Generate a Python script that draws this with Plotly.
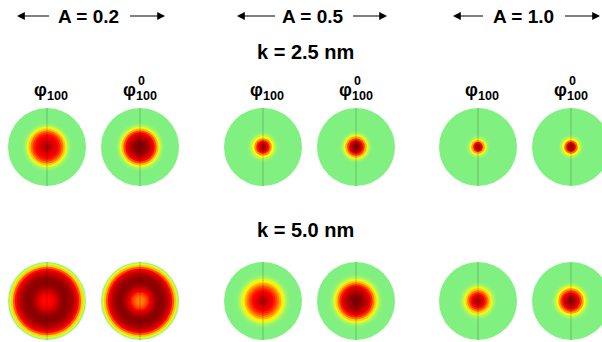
import numpy as np
import plotly.graph_objects as go

# ---------------- data ----------------
A_VALUES = ["0.2", "0.5", "1.0"]
K_VALUES = ["2.5", "5.0"]
FUNC_LABELS = ["φ100", "φ0_100"]

# radial sample points (fraction of disc radius)
RADII = [0.00, 0.05, 0.10, 0.15, 0.20, 0.25, 0.30, 0.35, 0.40, 0.45, 0.50,
         0.55, 0.60, 0.65, 0.70, 0.75, 0.80, 0.85, 0.90, 0.95, 1.00]

# k = 2.5 nm
k25_a02_phi = [0.88, 0.86, 0.82, 0.77, 0.72, 0.68, 0.63, 0.57, 0.48, 0.36, 0.22,
               0.10, 0.03, 0, 0, 0, 0, 0, 0, 0, 0]
k25_a02_phi0 = [1.00, 1.00, 0.98, 0.95, 0.90, 0.84, 0.76, 0.66, 0.54, 0.38, 0.22,
                0.10, 0.03, 0, 0, 0, 0, 0, 0, 0, 0]
k25_a05_phi = [0.92, 0.86, 0.76, 0.62, 0.45, 0.28, 0.14, 0.05, 0.01, 0, 0,
               0, 0, 0, 0, 0, 0, 0, 0, 0, 0]
k25_a05_phi0 = [1.00, 0.97, 0.88, 0.75, 0.58, 0.40, 0.22, 0.09, 0.02, 0, 0,
                0, 0, 0, 0, 0, 0, 0, 0, 0, 0]
k25_a10_phi = [0.95, 0.85, 0.65, 0.42, 0.22, 0.08, 0.02, 0, 0, 0, 0,
               0, 0, 0, 0, 0, 0, 0, 0, 0, 0]
k25_a10_phi0 = [1.00, 0.90, 0.72, 0.50, 0.28, 0.12, 0.03, 0, 0, 0, 0,
                0, 0, 0, 0, 0, 0, 0, 0, 0, 0]
# k = 5.0 nm
k50_a02_phi = [0.64, 0.64, 0.65, 0.67, 0.72, 0.78, 0.85, 0.91, 0.95, 0.97, 0.97,
               0.96, 0.93, 0.88, 0.82, 0.74, 0.64, 0.52, 0.35, 0.18, 0.05]
k50_a02_phi0 = [0.46, 0.47, 0.49, 0.53, 0.58, 0.66, 0.75, 0.83, 0.90, 0.95, 0.97,
                0.97, 0.95, 0.91, 0.85, 0.77, 0.66, 0.53, 0.37, 0.20, 0.06]
k50_a05_phi = [0.90, 0.85, 0.80, 0.75, 0.70, 0.65, 0.60, 0.54, 0.47, 0.39, 0.30,
               0.20, 0.10, 0.04, 0.01, 0, 0, 0, 0, 0, 0]
k50_a05_phi0 = [1.00, 1.00, 0.98, 0.95, 0.90, 0.85, 0.78, 0.70, 0.60, 0.48, 0.35,
                0.22, 0.11, 0.04, 0.01, 0, 0, 0, 0, 0, 0]
k50_a10_phi = [0.90, 0.85, 0.78, 0.70, 0.60, 0.48, 0.35, 0.22, 0.11, 0.04, 0.01,
               0, 0, 0, 0, 0, 0, 0, 0, 0, 0]
k50_a10_phi0 = [0.98, 0.95, 0.88, 0.80, 0.70, 0.57, 0.42, 0.27, 0.14, 0.05, 0.01,
                0, 0, 0, 0, 0, 0, 0, 0, 0, 0]

PROFILES = {
    ("2.5", "0.2"): [k25_a02_phi, k25_a02_phi0],
    ("2.5", "0.5"): [k25_a05_phi, k25_a05_phi0],
    ("2.5", "1.0"): [k25_a10_phi, k25_a10_phi0],
    ("5.0", "0.2"): [k50_a02_phi, k50_a02_phi0],
    ("5.0", "0.5"): [k50_a05_phi, k50_a05_phi0],
    ("5.0", "1.0"): [k50_a10_phi, k50_a10_phi0],
}

# ---------------- layout / style ----------------
W, H = 602, 342
R = 39                      # disc radius in px
GROUP_X = [93.5, 309.5, 524.5]
PAIR_DX = 46.5
ROW_Y = [147, 301]
A_TEXT_X = [88, 313, 523]
A_LEFT = [(17, 52), (237, 278), (453, 486)]    # (tip, tail)
A_RIGHT = [(127, 165), (350, 387), (562, 600)]  # (tail, tip)
FONT = "Liberation Sans, Arial, sans-serif"

COLORSCALE = [
    [0.00, "rgb(128,240,128)"],
    [0.10, "rgb(170,245,100)"],
    [0.28, "rgb(255,255,0)"],
    [0.45, "rgb(255,140,0)"],
    [0.65, "rgb(255,0,0)"],
    [1.00, "rgb(128,0,0)"],
]

fig = go.Figure()
radii = np.array(RADII)
outer = np.minimum(radii + 0.025, 1.0)
order = np.argsort(-outer, kind="stable")

for ri, k in enumerate(K_VALUES):
    for gi, a in enumerate(A_VALUES):
        for fi, prof in enumerate(PROFILES[(k, a)]):
            cx = GROUP_X[gi] + (PAIR_DX if fi else -PAIR_DX)
            cy = ROW_Y[ri]
            vals = np.array(prof)[order]
            sizes = 2 * R * outer[order]
            fig.add_trace(go.Scatter(
                x=[cx] * len(vals), y=[cy] * len(vals), mode="markers",
                marker=dict(size=sizes, color=vals, colorscale=COLORSCALE,
                            cmin=0, cmax=1, line=dict(width=0), opacity=1),
                hoverinfo="skip", showlegend=False))
            # line-ns half length = 0.7 * size
            fig.add_trace(go.Scatter(
                x=[cx], y=[cy], mode="markers",
                marker=dict(symbol="line-ns", size=R / 0.7,
                            line=dict(width=1, color="rgba(0,0,0,0.2)")),
                hoverinfo="skip", showlegend=False))

annotations = []
for gi, a in enumerate(A_VALUES):
    annotations.append(dict(x=A_TEXT_X[gi], y=16, text=f"<b>A = {a}</b>", showarrow=False,
                            font=dict(size=19, family=FONT, color="black"),
                            xanchor="center", yanchor="middle"))
    for tip, tail in [(A_LEFT[gi][0], A_LEFT[gi][1]), (A_RIGHT[gi][1], A_RIGHT[gi][0])]:
        annotations.append(dict(x=tip, y=16, ax=tail, ay=16, axref="x", ayref="y",
                                xref="x", yref="y", text=" ", showarrow=True,
                                arrowhead=2, arrowsize=1.3, arrowwidth=1.2,
                                arrowcolor="black", standoff=0, startstandoff=0))
K_Y = [52, 230]
for ri, k in enumerate(K_VALUES):
    annotations.append(dict(x=305, y=K_Y[ri], text=f"<b>k = {k} nm</b>", showarrow=False,
                            font=dict(size=20, family=FONT, color="black"),
                            xanchor="center", yanchor="middle"))
for gi in range(3):
    x1 = GROUP_X[gi] - PAIR_DX + 4
    x2 = GROUP_X[gi] + PAIR_DX
    annotations.append(dict(x=x1, y=91, text="<b>φ<sub>100</sub></b>", showarrow=False,
                            font=dict(size=18, family=FONT, color="black"),
                            xanchor="center", yanchor="middle"))
    annotations.append(dict(x=x2, y=91, text="<b>φ<sub>100</sub></b>", showarrow=False,
                            font=dict(size=18, family=FONT, color="black"),
                            xanchor="center", yanchor="middle"))
    annotations.append(dict(x=x2 + 1.5, y=81, text="<b>0</b>", showarrow=False,
                            font=dict(size=12.5, family=FONT, color="black"),
                            xanchor="center", yanchor="middle"))

fig.update_layout(
    width=W, height=H, autosize=False,
    margin=dict(l=0, r=0, t=0, b=0, pad=0),
    paper_bgcolor="white", plot_bgcolor="white",
    xaxis=dict(range=[0, W], visible=False, fixedrange=True),
    yaxis=dict(range=[H, 0], visible=False, fixedrange=True),
    annotations=annotations, hovermode=False, showlegend=False,
)

fig.write_html("out.html")
